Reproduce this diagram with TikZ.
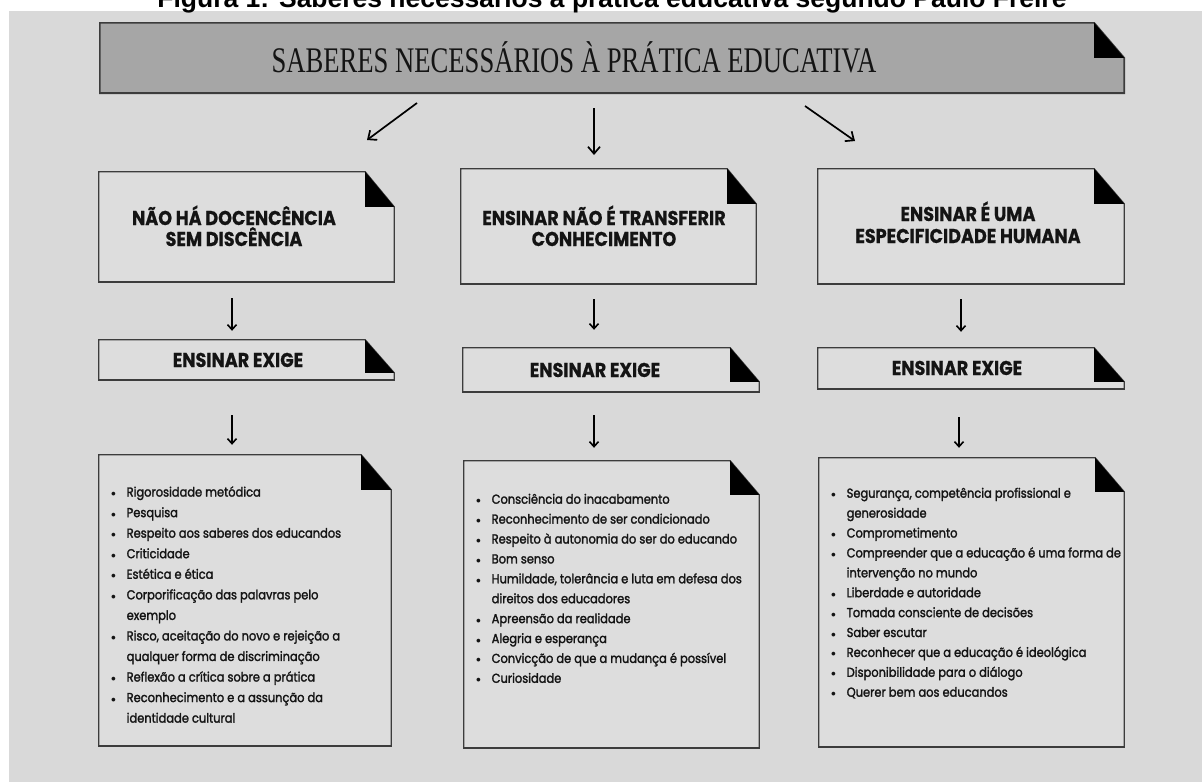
\documentclass[tikz,border=0pt]{standalone}
\usepackage{fontspec}
\usetikzlibrary{arrows.meta,fit}
\newfontfamily\titlefont{Liberation Sans}
\newfontfamily\hdrfont{Liberation Serif}
\newfontfamily\headfont[FakeStretch=0.88,FakeBold=0.6]{Poppins}
\newfontfamily\listfont[FakeBold=1.8,FakeStretch=0.88]{Poppins}
\definecolor{panel}{HTML}{D9D9D9}
\definecolor{boxc}{HTML}{DDDDDD}
\definecolor{hdrc}{HTML}{A6A6A6}
\definecolor{border}{HTML}{3C3C3C}
\definecolor{txtc}{HTML}{141414}
% #1 name, #2 x1, #3 y1, #4 x2, #5 y2, #6 fold width, #7 fold height, #8 style
\newcommand{\foldbox}[8]{%
  \node[fit={(#2,#3)(#4,#5)}, inner sep=0pt, draw=none] (#1) {};
  \path[#8] (#1.north west) -- ([xshift=-#6pt]#1.north east) -- ([yshift=-#7pt]#1.north east)
     -- (#1.south east) -- (#1.south west) -- cycle;
  \draw[border, line width=2.2pt] ([xshift=-0.6pt]#1.south west) -- ([xshift=0.6pt]#1.south east);
  \fill[black] ([xshift=-#6pt]#1.north east) -- ([xshift=-#6pt,yshift=-#7pt]#1.north east)
     -- ([yshift=-#7pt]#1.north east) -- cycle;
}
\newcommand{\itm}[1]{\makebox[15.5pt][l]{\scalebox{0.8}{$\bullet$}}#1}
\newcommand{\cnt}[1]{\hspace*{15.5pt}#1}
\begin{document}
\begin{tikzpicture}[x=1pt,y=-1pt,
  boxfill/.style={fill=boxc, draw=border, line width=1.3pt, line join=miter},
  hdrfill/.style={fill=hdrc, draw=border, line width=1.6pt, line join=miter},
  arr/.style={-{Straight Barb[length=5pt,width=9pt]}, line width=1.6pt, black},
  bigarr/.style={-{Straight Barb[length=7pt,width=12pt]}, line width=1.7pt, black},
  headtxt/.style={anchor=base, inner sep=0pt, font=\headfont\bfseries\fontsize{20}{21}\selectfont, text=txtc},
  listtxt/.style={anchor=north west, inner sep=0pt, text=txtc}
]
\useasboundingbox (0,0) rectangle (1202,782);
\fill[white] (0,0) rectangle (1202,782);
\fill[panel] (9,11) rectangle (1202,782);

% title (partly cut at the top, as in the reference)
\node[anchor=base, inner sep=0pt] (title) at (612,7)
  {\resizebox{909pt}{!}{\titlefont\bfseries Figura 1: Saberes necessários à prática educativa segundo Paulo Freire}};

% header
\foldbox{hdr}{100}{23}{1124}{93}{30}{35}{hdrfill}
\node[anchor=base, inner sep=0pt, text=txtc] (hdrtxt) at (574,72)
  {\hdrfont\fontsize{36}{40}\selectfont\scalebox{0.74}[1]{SABERES NECESSÁRIOS À PRÁTICA EDUCATIVA}};

% first row boxes
\foldbox{b1}{99}{172}{394}{282}{29}{35}{boxfill}
\foldbox{b2}{461}{169}{756}{284}{29}{35}{boxfill}
\foldbox{b3}{818}{169}{1124}{284}{30}{35}{boxfill}
\node[headtxt] (b1a) at (234,225) {NÃO HÁ DOCENCÊNCIA};
\node[headtxt] (b1b) at (234,246) {SEM DISCÊNCIA};
\node[headtxt] (b2a) at (604,225) {ENSINAR NÃO É TRANSFERIR};
\node[headtxt] (b2b) at (604,246) {CONHECIMENTO};
\node[headtxt] (b3a) at (968,221) {ENSINAR É UMA};
\node[headtxt] (b3b) at (968,243) {ESPECIFICIDADE HUMANA};

% ensinar exige boxes
\foldbox{e1}{99}{340}{394}{380}{29}{33}{boxfill}
\foldbox{e2}{463}{348}{759}{392}{29}{34}{boxfill}
\foldbox{e3}{818}{348}{1124}{389}{30}{34}{boxfill}
\node[headtxt] (e1t) at (238,367) {ENSINAR EXIGE};
\node[headtxt] (e2t) at (595,377) {ENSINAR EXIGE};
\node[headtxt] (e3t) at (957,375) {ENSINAR EXIGE};

% list boxes
\foldbox{l1}{99}{455}{391}{746}{30}{35}{boxfill}
\foldbox{l2}{464}{461}{759}{748}{29}{34}{boxfill}
\foldbox{l3}{819}{458}{1124}{747}{29}{34}{boxfill}

\node[listtxt] (l1t) at (111,482) {\listfont\fontsize{13}{20.55}\selectfont
\begin{tabular}{@{}l@{}}
\itm{Rigorosidade metódica}\\
\itm{Pesquisa}\\
\itm{Respeito aos saberes dos educandos}\\
\itm{Criticidade}\\
\itm{Estética e ética}\\
\itm{Corporificação das palavras pelo}\\
\cnt{exemplo}\\
\itm{Risco, aceitação do novo e rejeição a}\\
\cnt{qualquer forma de discriminação}\\
\itm{Reflexão a crítica sobre a prática}\\
\itm{Reconhecimento e a assunção da}\\
\cnt{identidade cultural}
\end{tabular}};

\node[listtxt] (l2t) at (476,489.6) {\listfont\fontsize{13}{19.9}\selectfont
\begin{tabular}{@{}l@{}}
\itm{Consciência do inacabamento}\\
\itm{Reconhecimento de ser condicionado}\\
\itm{Respeito à autonomia do ser do educando}\\
\itm{Bom senso}\\
\itm{Humildade, tolerância e luta em defesa dos}\\
\cnt{direitos dos educadores}\\
\itm{Apreensão da realidade}\\
\itm{Alegria e esperança}\\
\itm{Convicção de que a mudança é possível}\\
\itm{Curiosidade}
\end{tabular}};

\node[listtxt] (l3t) at (831,483.6) {\listfont\fontsize{13}{19.9}\selectfont
\begin{tabular}{@{}l@{}}
\itm{Segurança, competência profissional e}\\
\cnt{generosidade}\\
\itm{Comprometimento}\\
\itm{Compreender que a educação é uma forma de}\\
\cnt{intervenção no mundo}\\
\itm{Liberdade e autoridade}\\
\itm{Tomada consciente de decisões}\\
\itm{Saber escutar}\\
\itm{Reconhecer que a educação é ideológica}\\
\itm{Disponibilidade para o diálogo}\\
\itm{Querer bem aos educandos}
\end{tabular}};

% arrows from the header
\coordinate (a1s) at (417,103);
\coordinate (a1e) at (367,140);
\coordinate (a2s) at (594,108);
\coordinate (a2e) at (594,155);
\coordinate (a3s) at (805,106);
\coordinate (a3e) at (855,141);
\draw[bigarr] (a1s) -- (a1e);
\draw[bigarr] (a2s) -- (a2e);
\draw[bigarr] (a3s) -- (a3e);

% vertical arrows between boxes
\draw[arr, shorten <=16pt, shorten >=9pt] (b1.south -| 232,0) -- (e1.north -| 232,0);
\draw[arr, shorten <=15pt, shorten >=18pt] (b2.south -| 594,0) -- (e2.north -| 594,0);
\draw[arr, shorten <=15pt, shorten >=16pt] (b3.south -| 961,0) -- (e3.north -| 961,0);
\draw[arr, shorten <=35pt, shorten >=10pt] (e1.south -| 232,0) -- (l1.north -| 232,0);
\draw[arr, shorten <=23pt, shorten >=13pt] (e2.south -| 594,0) -- (l2.north -| 594,0);
\draw[arr, shorten <=28pt, shorten >=10pt] (e3.south -| 959,0) -- (l3.north -| 959,0);
\end{tikzpicture}
\end{document}
